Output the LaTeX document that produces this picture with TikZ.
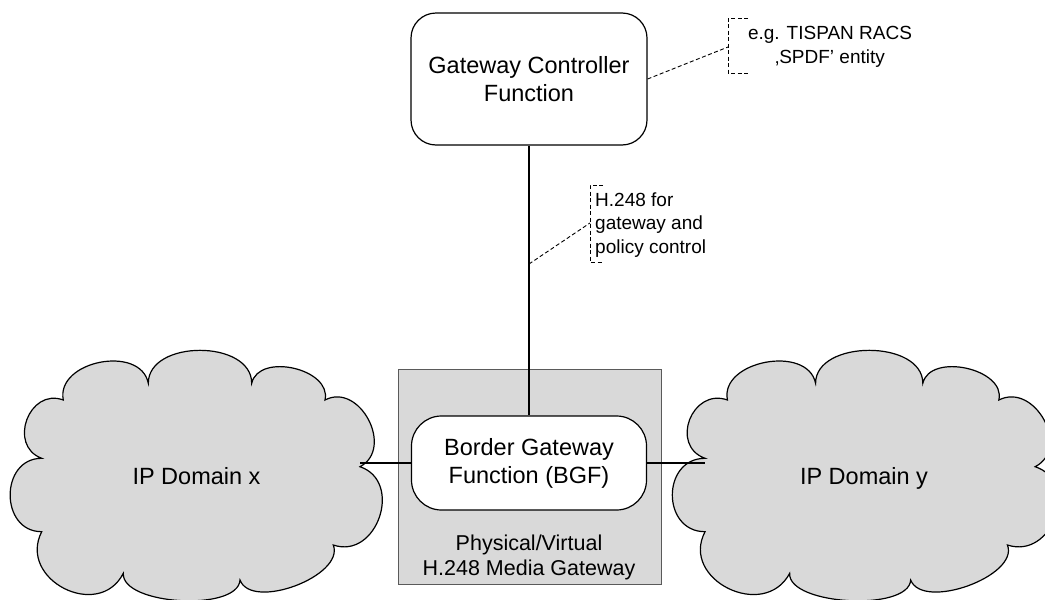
\documentclass[tikz,border=0pt]{standalone}
\usepackage{fontspec}
\setmainfont{Liberation Sans}
\definecolor{cgray}{RGB}{217,217,217}
\definecolor{bgray}{RGB}{90,90,90}
\tikzset{
  lbl/.style={font=\fontsize{23.5}{28}\selectfont, align=center, inner sep=0pt},
  mglbl/.style={font=\fontsize{21.5}{25}\selectfont, align=center, inner sep=0pt},
  note/.style={font=\fontsize{19}{23.5}\selectfont, inner sep=0pt},
  ln/.style={line width=1.2pt},
  dsh/.style={line width=0.9pt, dash pattern=on 4pt off 2.5pt},
  rbox/.style={draw=black, fill=white, line width=1.2pt, align=center, inner sep=0pt,
               font=\fontsize{23.5}{28}\selectfont},
  cloudst/.style={draw=black, fill=cgray, line width=1.2pt},
  pf/.style={bend left=90, looseness=#1},
}
\begin{document}
\begin{tikzpicture}[x=1pt,y=-1pt]
\useasboundingbox (0,0) rectangle (1045,600);

% media gateway box
\node[draw=bgray, fill=cgray, line width=0.8pt, minimum width=263pt, minimum height=215pt, inner sep=0pt] (mg) at (529.5,476.5) {};

% left cloud
\draw[cloudst] (41.7,458.3) coordinate (x0)
  to[pf=1.5]  (63.3,400)
  to[pf=1.18] (148.3,383.3)
  to[pf=1.09] (251.7,383.3)
  to[pf=1.09] (325,400)
  to[pf=1.33] (360,466.7) coordinate (x5)
  to[pf=1.43] (333.3,545)
  to[pf=0.85] (240,580)
  to[pf=0.7]  (123.3,573.3)
  to[pf=1.5]  (41.7,531.7)
  to[pf=1.47] (41.7,458.3) -- cycle;

% right cloud
\begin{scope}[xshift=661.8pt, xscale=1.037]
\draw[cloudst] (41.7,458.3) coordinate (y0)
  to[pf=1.5]  (63.3,400)
  to[pf=1.18] (148.3,383.3)
  to[pf=1.09] (251.7,383.3)
  to[pf=1.09] (325,400)
  to[pf=1.33] (360,466.7) coordinate (y5)
  to[pf=1.43] (333.3,545)
  to[pf=0.85] (240,580)
  to[pf=0.7]  (123.3,573.3)
  to[pf=1.5]  (41.7,531.7)
  to[pf=1.47] (41.7,458.3) -- cycle;
\end{scope}

\node[lbl, anchor=base] (dx) at (196.5,484) {IP Domain x};
\node[lbl, anchor=base] (dy) at (864,484) {IP Domain y};

% controller
\node[rbox, minimum width=236pt, minimum height=132pt, rounded corners=25pt] (gcf) at (529,79) {Gateway Controller\\Function};

% BGF
\node[rbox, minimum width=235pt, minimum height=94pt, rounded corners=30pt] (bgf) at (529,463) {Border Gateway\\Function (BGF)};

\node[mglbl] (mgl) at (529,557) {Physical/Virtual\\H.248 Media Gateway};

% connectors
\draw[ln] (gcf.south) -- (bgf.north);
\draw[ln] (bgf.west) -- (bgf.west -| x5);
\draw[ln] (bgf.east) -- (bgf.east -| y0);

% callout for controller
\coordinate (n1) at (728,47);
\draw[dsh] (gcf.east) -- (n1);
\draw[dsh] (748,18) -- (728,18) -- (728,73) -- (748,73);
\node[note, align=center] (t1) at (830,47) {e.g. TISPAN RACS\\‚SPDF’ entity};

% callout for H.248
\coordinate (v1) at (529,264);
\coordinate (n2) at (590,223);
\draw[dsh] (v1) -- (n2);
\draw[dsh] (603,185) -- (590,185) -- (590,262) -- (603,262);
\node[note, align=left, anchor=north west] (t2) at (595,192.5) {H.248 for\\gateway and\\policy control};
\end{tikzpicture}
\end{document}
